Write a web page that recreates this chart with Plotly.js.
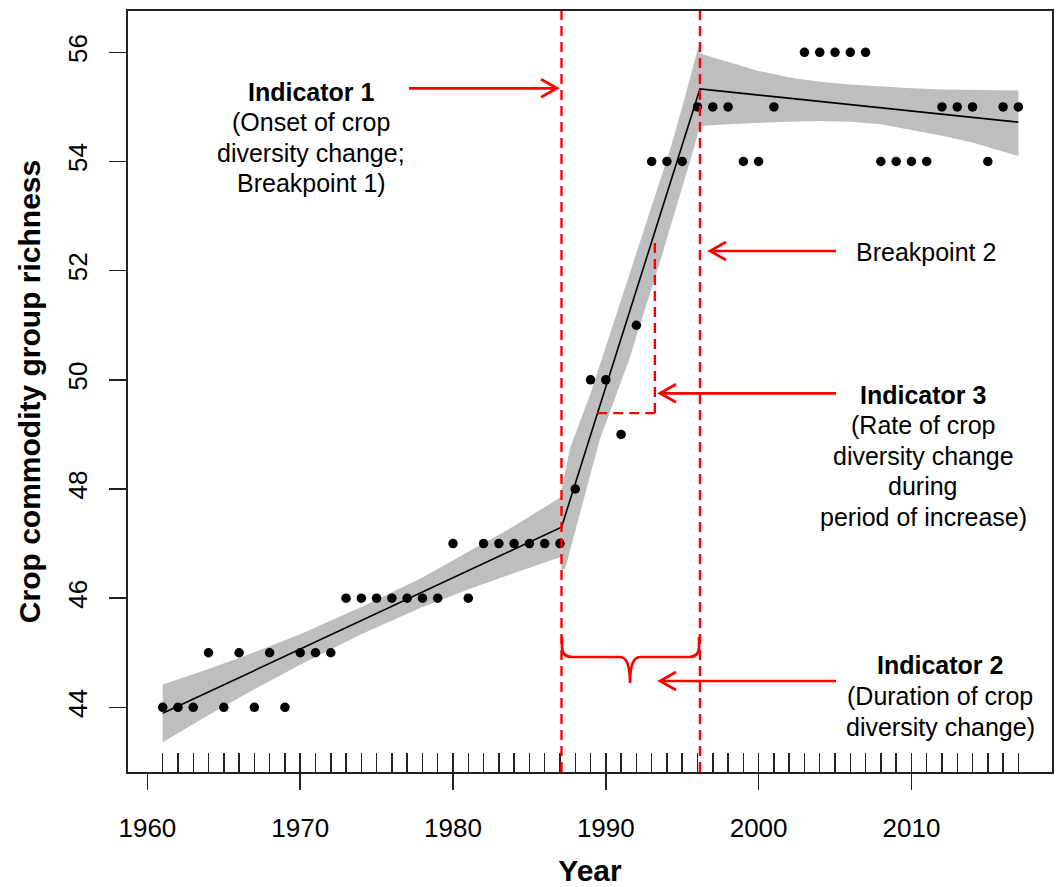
<!DOCTYPE html>
<html>
<head>
<meta charset="utf-8">
<script src="https://cdn.plot.ly/plotly-3.0.1.min.js"></script>
<style>html,body{margin:0;padding:0;background:#fff;}#chart{width:1057px;height:887px;}</style>
</head>
<body>
<div id="chart"></div>
<script>
const years = [1961,1962,1963,1964,1965,1966,1967,1968,1969,1970,1971,1972,1973,1974,1975,1976,1977,1978,1979,1980,
  1981,1982,1983,1984,1985,1986,1987,1988,1989,1990,1991,1992,1993,1994,1995,1996,1997,1998,1999,2000,2001,
  2003,2004,2005,2006,2007,2008,2009,2010,2011,2012,2013,2014,2015,2016,2017];
const richness = [44,44,44,45,44,45,44,45,44,45,45,45,46,46,46,46,46,46,46,47,
  46,47,47,47,47,47,47,48,50,50,49,51,54,54,54,55,55,55,54,54,55,
  56,56,56,56,56,54,54,54,54,55,55,55,54,55,55];

// ---- segmented fit ----
const fitYears = [1961, 1987.1, 1996.16, 2017];
const fitValues = [43.89, 47.30, 55.33, 54.72];
const breakpoints = [1987.1, 1996.16];

// ---- confidence band, segment 1 ----
const band1Years = [1961, 1964, 1967, 1970, 1974, 1978, 1981, 1984, 1987.1];
const band1Upper = [44.42, 44.70, 45.01, 45.34, 45.84, 46.38, 46.85, 47.32, 47.86];
const band1Lower = [43.36, 43.86, 44.33, 44.78, 45.34, 45.84, 46.16, 46.46, 46.76];
// ---- confidence band, segment 2 ----
const band2UpperYears = [1987.1, 1987.66, 1989.0, 1991.0, 1993.0, 1994.2, 1995.2, 1996.05, 1996.16];
const band2Upper = [47.98, 48.75, 49.75, 51.45, 53.18, 54.21, 55.20, 56.10, 56.05];
const band2LowerYears = [1987.1, 1987.35, 1989.6, 1991.5, 1993.5, 1995.73, 1996.16];
const band2Lower = [46.50, 46.55, 48.90, 50.35, 52.12, 54.21, 54.65];
// ---- confidence band, segment 3 ----
const band3Years = [1996.16, 1998, 2000, 2002, 2004, 2006, 2008, 2010, 2012, 2014, 2017];
const band3Upper = [55.98, 55.82, 55.66, 55.54, 55.46, 55.41, 55.37, 55.34, 55.32, 55.31, 55.30];
const band3Lower = [54.65, 54.68, 54.71, 54.73, 54.74, 54.73, 54.68, 54.58, 54.47, 54.35, 54.10];

// ---- rate-of-change step (Indicator 3) ----
const rateStepYears = [1989.44, 1993.21];
const rateStepValues = [49.39, 52.62];

// ---- axes ----
const xTickVals = [1960, 1970, 1980, 1990, 2000, 2010];
const yTickVals = [44, 46, 48, 50, 52, 54, 56];
const rugYears = [1961,1962,1963,1964,1965,1966,1967,1968,1969,1970,1971,1972,1973,1974,1975,1976,1977,1978,1979,1980,
  1981,1982,1983,1984,1985,1986,1987,1988,1989,1990,1991,1992,1993,1994,1995,1996,1997,1998,1999,2000,
  2001,2002,2003,2004,2005,2006,2007,2008,2009,2010,2011,2012,2013,2014,2015,2016,2017];
const xRange = [1958.73, 2019.20];
const yRange = [42.815, 56.757];

// ---- layout geometry ----
const W = 1057, H = 887;
const M = {l: 128, r: 5, t: 11, b: 115};
const X0 = M.l, X1 = W - M.r, Y0 = M.t, Y1 = H - M.b;
const px2x = p => xRange[0] + (p - X0) / (X1 - X0) * (xRange[1] - xRange[0]);
const py2y = p => yRange[1] - (p - Y0) / (Y1 - Y0) * (yRange[1] - yRange[0]);
const px2paper = p => (p - X0) / (X1 - X0);
const py2paper = p => 1 - (p - Y0) / (Y1 - Y0);
const P = (px, py) => px2x(px) + ',' + py2y(py);

const FONT = 'Liberation Sans, Arial, Helvetica, sans-serif';
const RED = '#ff0000';
const BAND = 'rgb(190,190,190)';

function poly(xsTop, ysTop, xsBot, ysBot) {
  return {x: xsTop.concat(xsBot.slice().reverse()), y: ysTop.concat(ysBot.slice().reverse()),
    type: 'scatter', mode: 'lines', fill: 'toself', fillcolor: BAND,
    line: {width: 0, color: BAND}, hoverinfo: 'skip', showlegend: false};
}
const traces = [
  poly(band1Years, band1Upper, band1Years, band1Lower),
  poly(band2UpperYears, band2Upper, band2LowerYears, band2Lower),
  poly(band3Years, band3Upper, band3Years, band3Lower),
  {x: fitYears, y: fitValues, type: 'scatter', mode: 'lines', line: {color: '#000', width: 1.6}, showlegend: false, hoverinfo: 'skip'},
  {x: years, y: richness, type: 'scatter', mode: 'markers', marker: {color: '#000', size: 9.5}, showlegend: false},
  {x: [rugYears[0]], y: [yTickVals[0]], xaxis: 'x2', type: 'scatter', mode: 'markers', marker: {opacity: 0, size: 1}, showlegend: false, hoverinfo: 'skip'}
];

const shapes = [];
breakpoints.forEach(b => shapes.push({type: 'line', xref: 'x', yref: 'paper', x0: b, x1: b, y0: 0, y1: 1,
  line: {color: RED, width: 2.4, dash: '10px,6px'}}));
shapes.push({type: 'line', xref: 'x', yref: 'y', x0: rateStepYears[0], x1: rateStepYears[1], y0: rateStepValues[0], y1: rateStepValues[0], line: {color: RED, width: 2.4, dash: '10px,6px'}});
shapes.push({type: 'line', xref: 'x', yref: 'y', x0: rateStepYears[1], x1: rateStepYears[1], y0: rateStepValues[0], y1: rateStepValues[1], line: {color: RED, width: 2.4, dash: '10px,6px'}});
function arrow(fromPx, toPx, yPx) {
  const dir = toPx > fromPx ? 1 : -1;
  shapes.push({type: 'line', xref: 'x', yref: 'y', x0: px2x(fromPx), x1: px2x(toPx - dir), y0: py2y(yPx), y1: py2y(yPx), line: {color: RED, width: 2.7}});
  shapes.push({type: 'path', xref: 'x', yref: 'y', path: 'M' + P(toPx - dir * 16, yPx - 9) + ' L' + P(toPx, yPx) + ' L' + P(toPx - dir * 16, yPx + 9), line: {color: RED, width: 2.7}});
}
arrow(409, 557, 88.3);
arrow(836, 710, 251);
arrow(836, 660, 393.3);
arrow(836, 660, 681);
// curly brace (Indicator 2)
shapes.push({type: 'path', xref: 'x', yref: 'y',
  path: 'M' + P(562, 637) + ' L' + P(562, 647) + ' Q' + P(562, 657) + ' ' + P(572, 657) +
        ' L' + P(620, 657) + ' Q' + P(630, 657) + ' ' + P(630, 683) +
        ' Q' + P(630, 657) + ' ' + P(640, 657) + ' L' + P(689, 657) +
        ' Q' + P(699, 657) + ' ' + P(699, 647) + ' L' + P(699, 637),
  line: {color: RED, width: 2.7}});

const annotations = [];
function label(text, cx, baseline, bold) {
  const fs = 25;
  annotations.push({xref: 'paper', yref: 'paper', x: px2paper(cx), y: py2paper(baseline - 0.3465 * fs),
    xanchor: 'center', yanchor: 'middle', showarrow: false, text: bold ? '<b>' + text + '</b>' : text,
    font: {family: FONT, size: fs, color: '#000'}});
}
label('Indicator 1', 311, 100.7, true);
label('(Onset of crop', 311, 131.0);
label('diversity change;', 311, 161.3);
label('Breakpoint 1)', 311, 191.6);
label('Breakpoint 2', 926, 261);
label('Indicator 3', 923, 403.3, true);
label('(Rate of crop', 923, 434);
label('diversity change', 923, 464.5);
label('during', 923, 495);
label('period of increase)', 923, 525.5);
label('Indicator 2', 940, 674, true);
label('(Duration of crop', 940, 705);
label('diversity change)', 940, 736);

const layout = {
  width: W, height: H, margin: M, paper_bgcolor: '#fff', plot_bgcolor: '#fff',
  font: {family: FONT, color: '#000'}, showlegend: false,
  xaxis: {range: xRange, tickmode: 'array', tickvals: xTickVals, ticktext: xTickVals.map(String),
    ticks: 'outside', ticklen: 16, tickwidth: 1.5, tickcolor: '#222',
    tickfont: {family: FONT, size: 26, color: '#000'}, ticklabelstandoff: 16,
    showline: true, mirror: true, linecolor: '#222', linewidth: 2, showgrid: false, zeroline: false, fixedrange: true,
    title: {text: '<b>Year</b>', font: {family: FONT, size: 30, color: '#000'}, standoff: 22}},
  xaxis2: {overlaying: 'x', anchor: 'y', side: 'bottom', range: xRange,
    tickmode: 'array', tickvals: rugYears, ticks: 'inside', ticklen: 19, tickwidth: 1.5, tickcolor: '#222',
    showticklabels: false, showgrid: false, zeroline: false, showline: false, fixedrange: true},
  yaxis: {range: yRange, tickmode: 'array', tickvals: yTickVals, ticktext: yTickVals.map(String),
    ticks: 'outside', ticklen: 17, tickwidth: 1.5, tickcolor: '#222', tickangle: -90,
    tickfont: {family: FONT, size: 26, color: '#000'}, ticklabelstandoff: 12,
    showline: true, mirror: true, linecolor: '#222', linewidth: 2, showgrid: false, zeroline: false, fixedrange: true,
    title: {text: '<b>Crop commodity group richness</b>', font: {family: FONT, size: 30, color: '#000'}, standoff: 13}},
  shapes: shapes, annotations: annotations
};
Plotly.newPlot('chart', traces, layout, {displayModeBar: false, staticPlot: true});
</script>
</body>
</html>
